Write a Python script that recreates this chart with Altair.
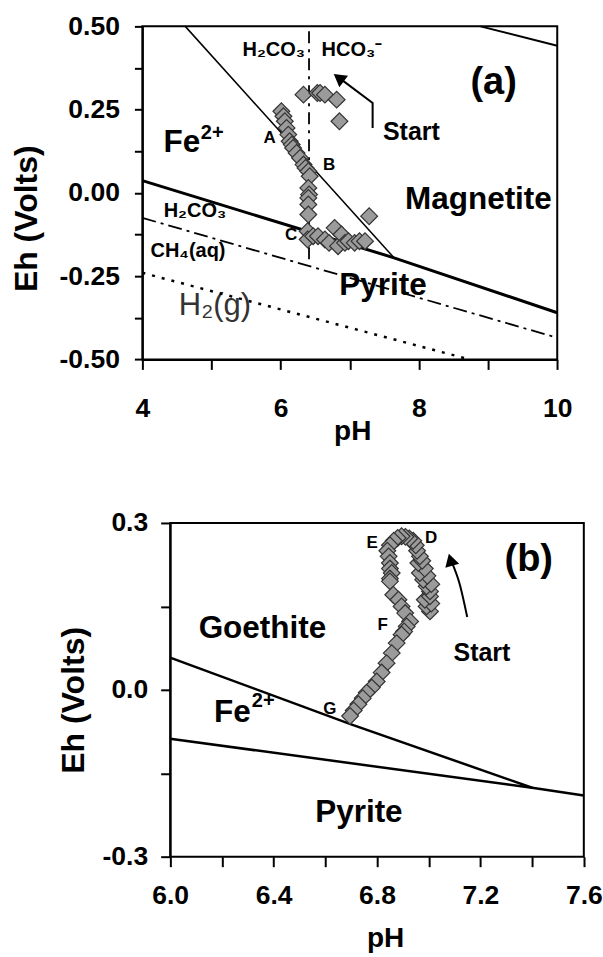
import altair as alt
import pandas as pd

FONT = "Liberation Sans"
MINUS = "\u2212"

# ================= Panel (a): pH 4-10, Eh -0.5..0.5 =================
ph_a = [6.33, 6.53, 6.57, 6.64, 6.81, 6.85,
        6.01, 6.04, 6.06, 6.085, 6.11, 6.13, 6.16, 6.18, 6.23, 6.28, 6.33, 6.36, 6.40, 6.42,
        6.40, 6.41, 6.40, 6.40, 6.40, 6.39, 6.39,
        6.47, 6.54, 6.64, 6.70, 6.78, 6.83, 6.88, 6.93, 6.98, 7.07, 7.14, 7.22, 7.28]
eh_a = [0.295, 0.30, 0.30, 0.295, 0.28, 0.215,
        0.245, 0.23, 0.215, 0.195, 0.175, 0.155, 0.145, 0.135, 0.12, 0.105, 0.085, 0.075, 0.065, 0.05,
        0.015, -0.005, -0.015, -0.035, -0.065, -0.115, -0.14,
        -0.13, -0.13, -0.14, -0.15, -0.105, -0.16, -0.125, -0.15, -0.145, -0.15, -0.145, -0.145, -0.07]

fe_magnetite_ph = [4.62, 7.64]
fe_magnetite_eh = [0.50, -0.195]
pyrite_ph = [4.0, 7.64, 10.0]
pyrite_eh = [0.037, -0.195, -0.36]
upper_ph = [8.89, 10.0]
upper_eh = [0.50, 0.442]
ch4_ph = [4.0, 10.0]
ch4_eh = [-0.075, -0.435]
h2_ph = [4.0, 8.73]
h2_eh = [-0.24, -0.50]
carbonate_ph = [6.41, 6.41]
carbonate_eh = [0.485, -0.215]
arrow_a_ph = [7.33, 7.33, 6.86]
arrow_a_eh = [0.195, 0.27, 0.343]
arrowhead_a_ph = [6.845]
arrowhead_a_eh = [0.345]

labels_a_text = ["H₂CO₃", "HCO₃⁻", "(a)", "Start", "Fe", "A", "B", "C",
                 "Magnetite", "H₂CO₃", "CH₄(aq)", "Pyrite"]
labels_a_ph = [5.90, 7.03, 9.08, 7.89, 4.57, 5.84, 6.70, 6.15, 8.86, 4.76, 4.66, 7.48]
labels_a_eh = [0.43, 0.43, 0.33, 0.183, 0.15, 0.165, 0.085, -0.125, -0.02, -0.055, -0.175, -0.28]
labels_a_size = [20, 20, 38, 25, 31.5, 17, 17, 17, 31.5, 20, 20, 31.5]
sup_a_text = ["2+"]
sup_a_ph = [5.01]
sup_a_eh = [0.18]
gas_text = ["H₂(g)"]
gas_ph = [5.05]
gas_eh = [-0.34]

ticks_xa = [4, 5, 6, 7, 8, 9, 10]
ticks_ya = [-0.5, -0.375, -0.25, -0.125, 0.0, 0.125, 0.25, 0.375, 0.5]

# ================= Panel (b): pH 6.0-7.6, Eh -0.3..0.3 =================
ph_b = [7.005, 6.992, 7.01, 6.985, 7.005, 7.005, 6.992, 7.01, 6.979, 6.995, 6.966, 6.985,
        6.96, 6.975, 6.966, 6.955, 6.95, 6.94, 6.925, 6.91, 6.895, 6.88, 6.865, 6.85,
        6.84, 6.845, 6.85, 6.85, 6.857, 6.85, 6.85, 6.863, 6.883, 6.895, 6.909, 6.928,
        6.915, 6.905, 6.895, 6.876, 6.857, 6.837, 6.818, 6.799, 6.78, 6.76, 6.745, 6.728,
        6.71, 6.696]
eh_b = [0.141, 0.15, 0.155, 0.162, 0.168, 0.177, 0.186, 0.19, 0.198, 0.205, 0.21, 0.218,
        0.228, 0.232, 0.24, 0.25, 0.26, 0.268, 0.272, 0.275, 0.276, 0.273, 0.268, 0.26,
        0.25, 0.24, 0.228, 0.218, 0.21, 0.2, 0.195, 0.171, 0.162, 0.15, 0.138, 0.123,
        0.114, 0.105, 0.099, 0.084, 0.066, 0.048, 0.031, 0.015, 0.004, -0.005, -0.015, -0.026,
        -0.037, -0.047]

goethite_ph = [6.0, 6.7, 7.4]
goethite_eh = [0.058, -0.062, -0.176]
fe_pyrite_ph = [6.0, 7.4, 7.6]
fe_pyrite_eh = [-0.088, -0.176, -0.19]
arrow_b_ph = [7.149, 7.12, 7.088]
arrow_b_eh = [0.131, 0.19, 0.231]
arrowhead_b_ph = [7.085]
arrowhead_b_eh = [0.233]
frame_b_ph = [6.0, 7.6]
frame_b_eh = [-0.3, 0.3]

labels_b_text = ["(b)", "D", "E", "F", "G", "Start", "Goethite", "Fe", "Pyrite"]
labels_b_ph = [7.387, 7.009, 6.781, 6.822, 6.618, 7.206, 6.357, 6.241, 6.73]
labels_b_eh = [0.2325, 0.273, 0.2636, 0.1173, -0.0343, 0.0654, 0.110, -0.042, -0.221]
labels_b_size = [38, 17, 17, 17, 17, 25, 31.5, 31.5, 31.5]
sup_b_text = ["2+"]
sup_b_ph = [6.36]
sup_b_eh = [-0.021]

ticks_xb = [6.0, 6.2, 6.4, 6.6, 6.8, 7.0, 7.2, 7.4, 7.6]
ticks_yb = [-0.3, -0.15, 0.0, 0.15, 0.3]

# ---------------- scales & axes ----------------
xs_a = alt.Scale(domain=[4, 10], nice=False, zero=False)
ys_a = alt.Scale(domain=[-0.5, 0.5], nice=False, zero=False)
ax_xa = alt.Axis(title="pH", values=ticks_xa, grid=False, labelOverlap=False, labelFlush=False,
                 labelExpr="datum.value % 2 == 0 ? format(datum.value, 'd') : ''",
                 tickSize=10, labelPadding=26, titleFontSize=28, titleX=210, titleY=58)
ax_ya = alt.Axis(title="Eh (Volts)", values=ticks_ya, grid=False, labelOverlap=False, labelFlush=False,
                 labelExpr="abs(datum.value*4 - round(datum.value*4)) < 0.01 ? replace(format(datum.value, '.2f'), '"
                 + MINUS + "', '-') : ''",
                 tickSize=8, labelPadding=15, titleX=-98.5, titleY=192)

PLOT_B_SHIFT = 27.8  # pixels between group origin and the pH 6.0 edge
xs_b = alt.Scale(domain=[6.0 - PLOT_B_SHIFT / 258.75, 7.6], nice=False, zero=False)
ys_b = alt.Scale(domain=[-0.3, 0.3], nice=False, zero=False)
ax_xb = alt.Axis(title="pH", values=ticks_xb, grid=False, domain=False, labelOverlap=False, labelFlush=False,
                 labelExpr="abs((datum.value-6)/0.4 - round((datum.value-6)/0.4)) < 0.01 ? format(datum.value, '.1f') : ''",
                 tickSize=10, labelPadding=16, titleFontSize=28, titleX=243, titleY=68)
ax_yb = alt.Axis(title="Eh (Volts)", values=ticks_yb, grid=False, labelOverlap=False, labelFlush=False,
                 labelExpr="abs(datum.value/0.3 - round(datum.value/0.3)) < 0.01 ? replace(format(datum.value, '.1f'), '"
                 + MINUS + "', '-') : ''",
                 tickSize=9.5, labelPadding=13, offset=-PLOT_B_SHIFT, titleX=-80, titleY=177)


def enc(xs, ys, ax, ay):
    return dict(x=alt.X("ph:Q", scale=xs, axis=ax), y=alt.Y("eh:Q", scale=ys, axis=ay))


def path(ph, eh, e, **mk):
    df = pd.DataFrame({"ph": ph, "eh": eh, "i": list(range(len(ph)))})
    return alt.Chart(df).mark_line(color="black", **mk).encode(order="i:Q", **e)


def texts(t, ph, eh, sizes, e, weight="bold", color="black"):
    df = pd.DataFrame({"t": t, "ph": ph, "eh": eh, "fs": sizes})
    return alt.Chart(df).mark_text(font=FONT, fontWeight=weight, color=color,
                                   align="center", baseline="middle").encode(
        text="t:N", size=alt.Size("fs:Q", scale=None), **e)


def diamonds(ph, eh, e):
    df = pd.DataFrame({"ph": ph, "eh": eh})
    return alt.Chart(df).mark_point(shape="diamond", filled=True, fill="#9b9b9b", stroke="#333333",
                                    strokeWidth=1.2, size=280, opacity=1).encode(**e)


def head(ph, eh, angle, e):
    df = pd.DataFrame({"ph": ph, "eh": eh})
    return alt.Chart(df).mark_point(shape="triangle-up", filled=True, fill="black", stroke="black",
                                    size=120, angle=angle, opacity=1).encode(**e)


ea = enc(xs_a, ys_a, ax_xa, ax_ya)
panel_a = alt.layer(
    texts(labels_a_text, labels_a_ph, labels_a_eh, labels_a_size, ea),
    texts(sup_a_text, sup_a_ph, sup_a_eh, [20], ea),
    texts(gas_text, gas_ph, gas_eh, [31], ea, weight="normal", color="#333333"),
    path(fe_magnetite_ph, fe_magnetite_eh, ea, strokeWidth=1.5),
    path(pyrite_ph, pyrite_eh, ea, strokeWidth=3),
    path(upper_ph, upper_eh, ea, strokeWidth=2),
    path(ch4_ph, ch4_eh, ea, strokeWidth=1.8, strokeDash=[14, 5, 3, 5]),
    path(h2_ph, h2_eh, ea, strokeWidth=2.5, strokeDash=[3, 7]),
    path(carbonate_ph, carbonate_eh, ea, strokeWidth=1.8, strokeDash=[12, 6, 3, 6]),
    diamonds(ph_a, eh_a, ea),
    path(arrow_a_ph, arrow_a_eh, ea, strokeWidth=2),
    head(arrowhead_a_ph, arrowhead_a_eh, 307, ea),
).properties(width=415.2, height=333.3, view=alt.ViewBackground(stroke="black", strokeWidth=2))

eb = enc(xs_b, ys_b, ax_xb, ax_yb)
frame_df = pd.DataFrame({"ph": [frame_b_ph[0]], "ph2": [frame_b_ph[1]],
                         "eh": [frame_b_eh[0]], "eh2": [frame_b_eh[1]]})
frame_b = alt.Chart(frame_df).mark_rect(filled=False, stroke="black", strokeWidth=2).encode(
    x2="ph2:Q", y2="eh2:Q", **eb)

panel_b = alt.layer(
    frame_b,
    texts(labels_b_text, labels_b_ph, labels_b_eh, labels_b_size, eb),
    texts(sup_b_text, sup_b_ph, sup_b_eh, [20], eb),
    path(goethite_ph, goethite_eh, eb, strokeWidth=2.5),
    path(fe_pyrite_ph, fe_pyrite_eh, eb, strokeWidth=2.5),
    diamonds(ph_b, eh_b, eb),
    path(arrow_b_ph, arrow_b_eh, eb, strokeWidth=2, interpolate="monotone"),
    head(arrowhead_b_ph, arrowhead_b_eh, 344, eb),
).properties(width=441.8, height=334, view=alt.ViewBackground(stroke="transparent"))

chart = alt.vconcat(panel_a, panel_b, spacing=62).properties(
    padding={"left": 9.5, "top": 12, "right": 0, "bottom": 0}
).configure(font=FONT).configure_axis(
    domainColor="black", domainWidth=2, tickColor="black", tickWidth=2,
    labelFont=FONT, labelFontSize=26.5, labelFontWeight="bold", labelColor="black",
    titleFont=FONT, titleFontSize=32, titleFontWeight="bold", titleColor="black",
)

chart.save("out.html", embed_options={"renderer": "svg", "actions": False})
